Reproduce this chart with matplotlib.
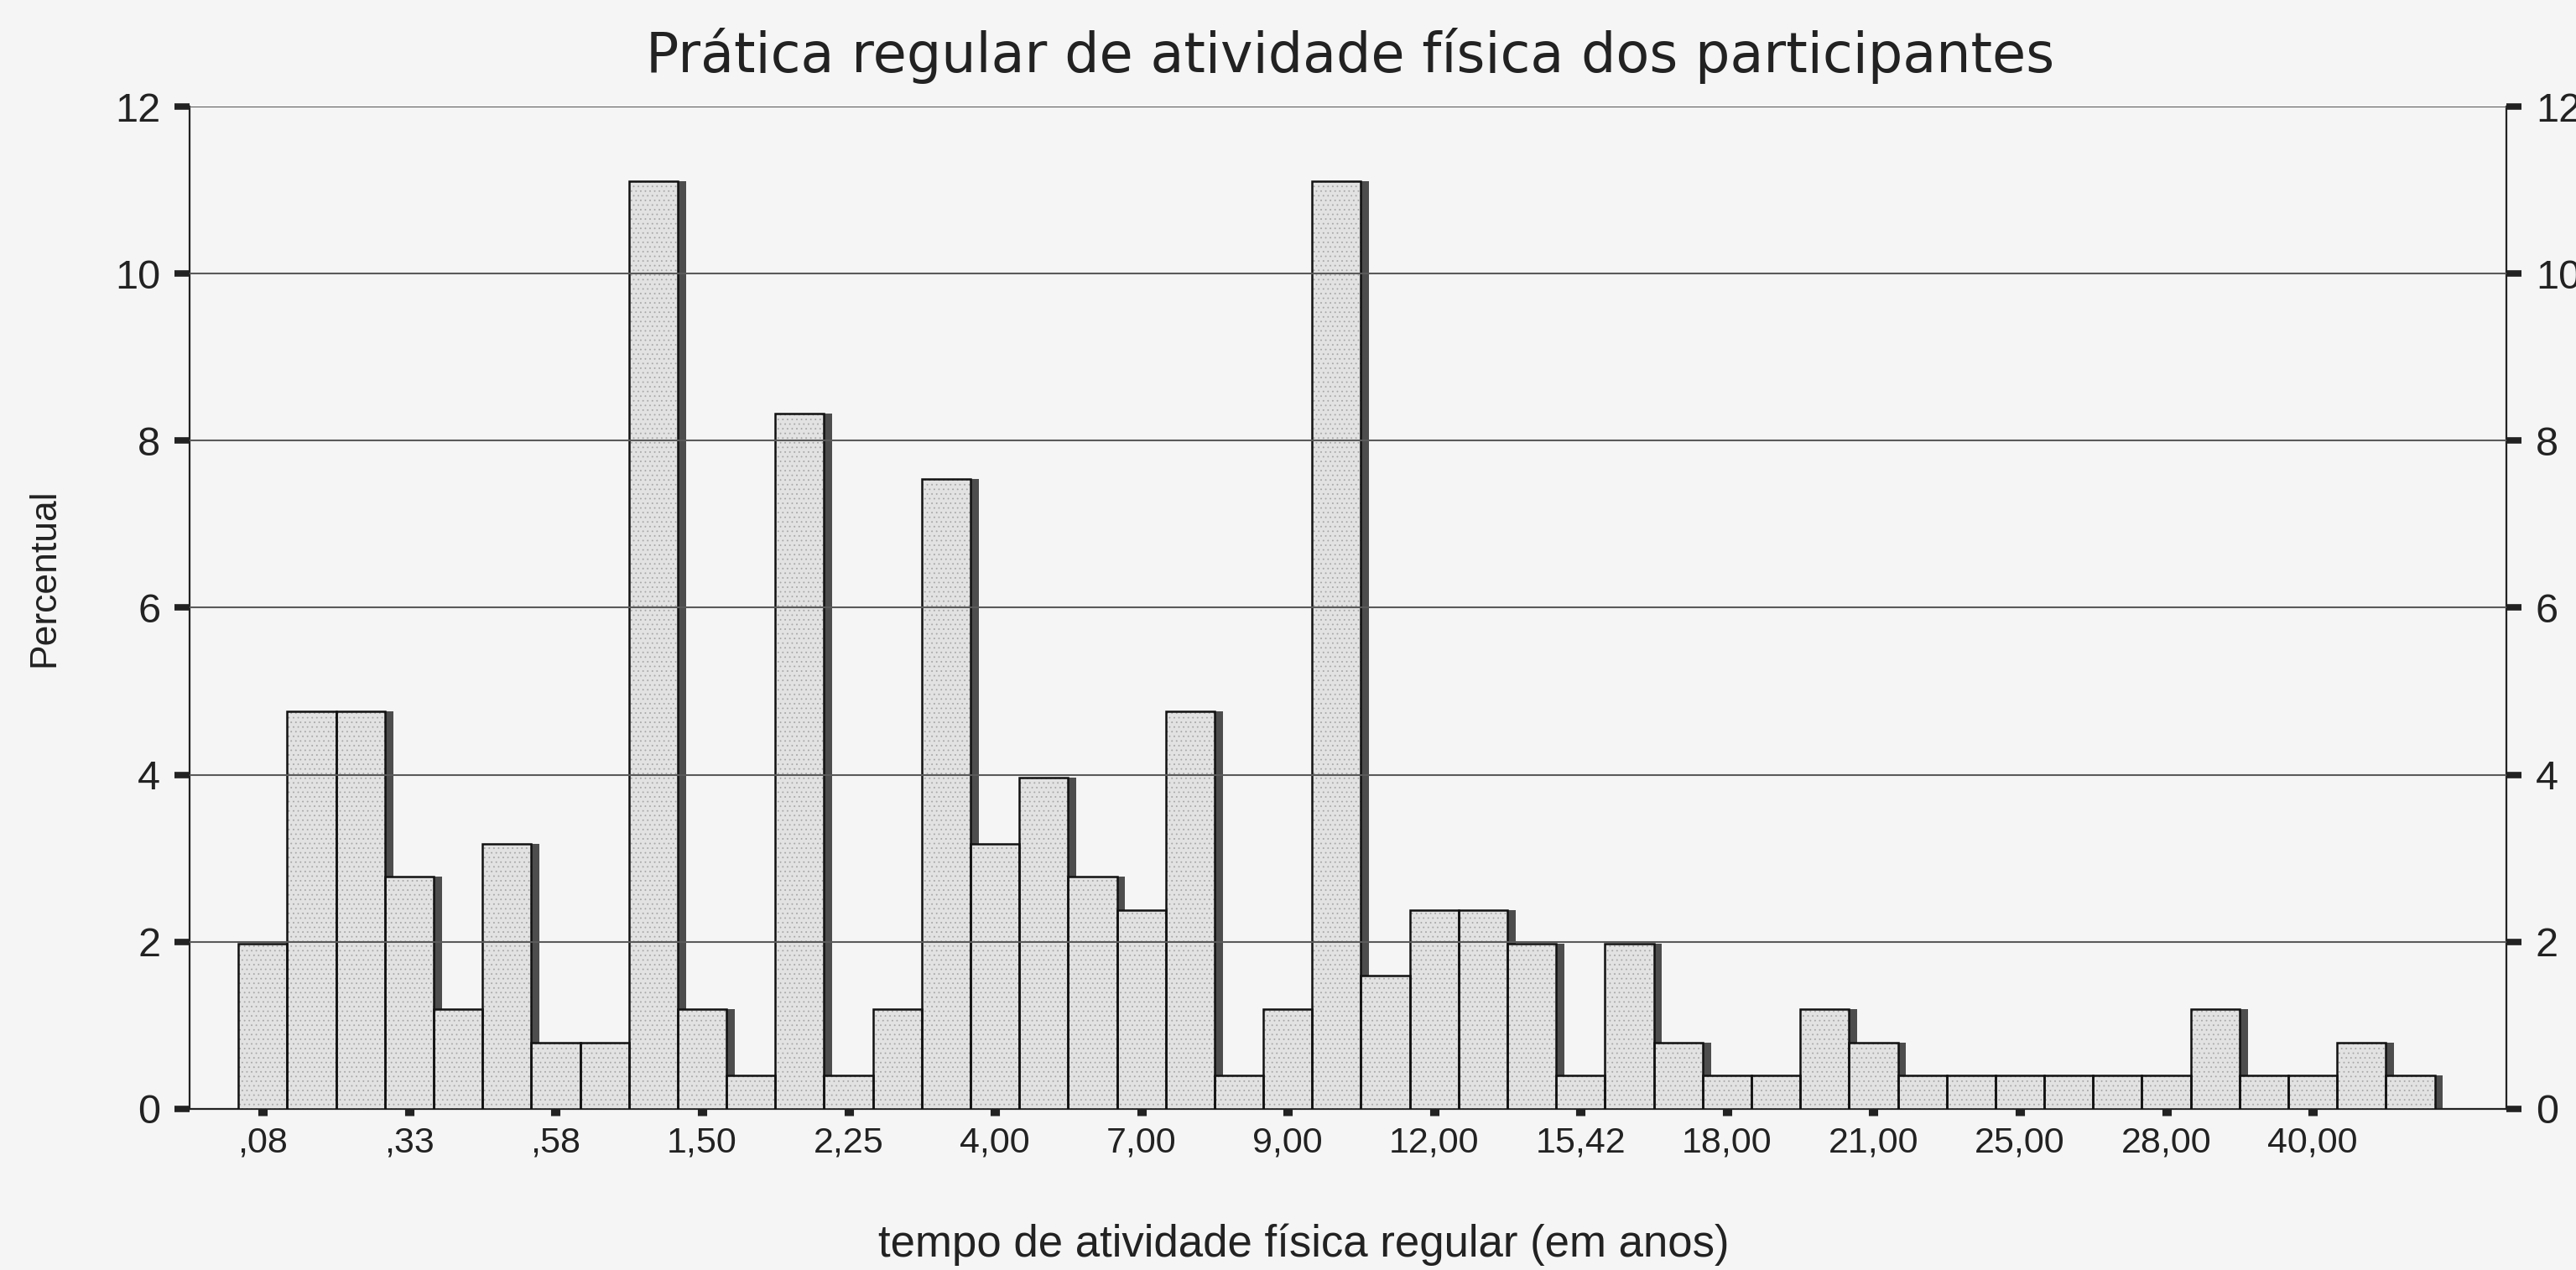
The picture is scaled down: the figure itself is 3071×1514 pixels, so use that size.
import matplotlib
matplotlib.use('Agg')
import matplotlib.pyplot as plt
import numpy as np

# percentage of participants per category of "tempo de atividade física regular"
percent = [1.98, 4.76, 4.76, 2.78, 1.19, 3.17, 0.79, 0.79, 11.11, 1.19,
           0.40, 8.33, 0.40, 1.19, 7.54, 3.17, 3.97, 2.78, 2.38, 4.76,
           0.40, 1.19, 11.11, 1.59, 2.38, 2.38, 1.98, 0.40, 1.98, 0.79,
           0.40, 0.40, 1.19, 0.79, 0.40, 0.40, 0.40, 0.40, 0.40, 0.40,
           1.19, 0.40, 0.40, 0.79, 0.40]
tick_labels = [',08', ',33', ',58', '1,50', '2,25', '4,00', '7,00', '9,00',
               '12,00', '15,42', '18,00', '21,00', '25,00', '28,00', '40,00']
label_step = 3
y_ticks = [0, 2, 4, 6, 8, 10, 12]

title = 'Prática regular de atividade física dos participantes'
xlabel = 'tempo de atividade física regular (em anos)'
ylabel = 'Percentual'

W, H, DPI = 3071, 1514, 100
fig = plt.figure(figsize=(W / DPI, H / DPI), dpi=DPI, facecolor='#f5f5f5')
ax = fig.add_axes([0.0736, 0.127, 0.8994, 0.789])
ax.set_facecolor('#f5f5f5')

x = np.arange(len(percent))
shadow_off = 0.17

ax.bar(x + shadow_off, percent, width=1.0, color='#4d4d4d', linewidth=0, zorder=2)
plt.rcParams['hatch.linewidth'] = 0.6
ax.bar(x, percent, width=1.0, color='#e2e2e2', edgecolor='#a8a8a8',
       hatch='...', linewidth=0, zorder=3)
ax.bar(x, percent, width=1.0, fill=False, edgecolor='#111111', linewidth=1.8, zorder=4)

for yv in y_ticks[1:]:
    ax.axhline(yv, color='#5a5a5a', linewidth=1.5, zorder=5)

ax.set_xlim(-1.5, 45.97)
ax.set_ylim(0, 12)

ax.set_yticks(y_ticks)
ax.set_yticklabels([str(v) for v in y_ticks])
ax.set_xticks(x[::label_step])
ax.set_xticklabels(tick_labels)

for s in ['left', 'right', 'bottom']:
    ax.spines[s].set_color('#222222')
    ax.spines[s].set_linewidth(1.6)
ax.spines['top'].set_visible(False)

ax.tick_params(axis='y', which='both', left=True, right=True, labelleft=True,
               labelright=True, direction='out', length=13, width=5.5,
               color='#222222', labelsize=35, pad=12, labelcolor='#222222')
ax.tick_params(axis='x', direction='out', length=6, width=8, color='#222222',
               labelsize=31, pad=9, labelcolor='#222222')
for lab in ax.get_xticklabels() + ax.get_yticklabels():
    lab.set_fontfamily('Liberation Sans')
for lab in ax.yaxis.get_ticklabels(which='both'):
    lab.set_fontfamily('Liberation Sans')

fig.text(0.524, 0.956, title, ha='center', va='center', fontsize=47,
         family='DejaVu Sans', color='#222222')
fig.text(0.506, 0.02, xlabel, ha='center', va='center', fontsize=38,
         family='Liberation Sans', color='#222222')
fig.text(0.0173, 0.545, ylabel, ha='center', va='center', rotation=90,
         fontsize=32, family='Liberation Sans', color='#222222')

fig.savefig('out.png', dpi=DPI, facecolor=fig.get_facecolor())
